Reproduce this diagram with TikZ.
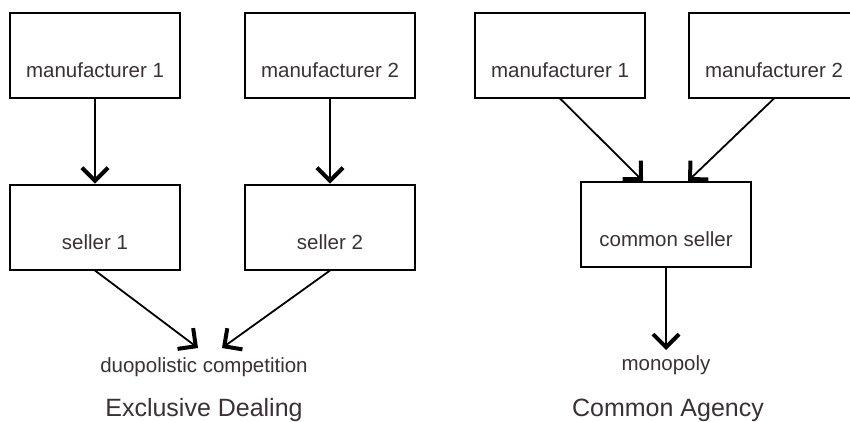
\documentclass[tikz,border=0pt]{standalone}
\usepackage{fontspec}
\setmainfont{Liberation Sans}
\usepackage{tikz}
\usetikzlibrary{arrows.meta, positioning, calc}

\definecolor{inkgray}{RGB}{58,48,54}

\begin{document}
\begin{tikzpicture}[
    x=1pt, y=-1pt,
    box/.style={draw, line width=2pt, minimum width=170pt, minimum height=85pt, inner sep=0pt,
                font=\fontsize{20.5}{24}\selectfont, text=inkgray, text height=44pt, text depth=0pt},
    lbl/.style={inner sep=0pt, font=\fontsize{20.5}{24}\selectfont, text=inkgray},
    caption/.style={inner sep=0pt, font=\fontsize{25}{30}\selectfont, text=inkgray},
    flow/.style={line width=1.8pt, -{Straight Barb[length=13pt, width=26pt, line width=4pt]}},
    ]
    \clip (0,0) rectangle (850,421);

    % Exclusive dealing (left)
    \node[box] (m1) at (95,55) {manufacturer 1};
    \node[box, right=63pt of m1] (m2) {manufacturer 2};
    \node[box, below=85pt of m1] (s1) {seller 1};
    \node[box, below=85pt of m2] (s2) {seller 2};
    \node[lbl, anchor=base] (duo) at (204,372) {duopolistic competition};
    \node[caption, anchor=base] (ed) at (204,416) {Exclusive Dealing};

    % Common agency (right)
    \node[box] (rm1) at (560,55) {manufacturer 1};
    \node[box, right=42pt of rm1] (rm2) {manufacturer 2};
    \node[box] (cs) at (666,224.5) {common seller};
    \node[lbl, anchor=base] (mono) at (666,370) {monopoly};
    \node[caption, anchor=base] (ca) at (668,416) {Common Agency};

    % Arrows
    \draw[flow] (m1) -- (s1);
    \draw[flow] (m2) -- (s2);
    \draw[flow] (s1.south) -- ([xshift=-6pt, yshift=24pt]duo.base);
    \draw[flow] (s2.south) -- ([xshift=18pt, yshift=24pt]duo.base);
    \draw[flow] (rm1.south) -- ([xshift=-23pt]cs.north);
    \draw[flow] (rm2.south) -- ([xshift=22pt]cs.north);
    \draw[flow] (cs.south) -- ([yshift=20pt]mono.base);
\end{tikzpicture}
\end{document}
